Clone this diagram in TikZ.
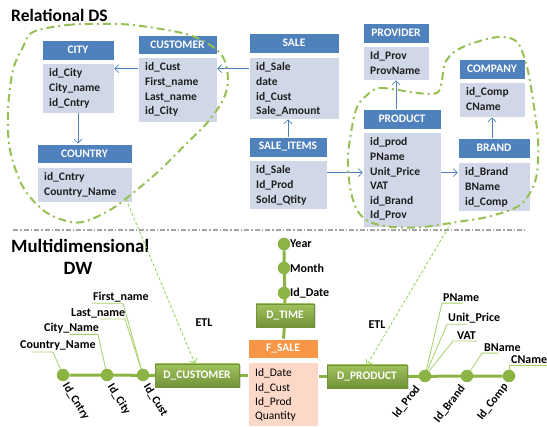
\documentclass[tikz,border=0pt]{standalone}
\usepackage{fontspec}
\setmainfont{Carlito}
\usetikzlibrary{arrows.meta,shadows}
\pgfdeclarelayer{background}
\pgfsetlayers{background,main}
\definecolor{hblue}{RGB}{79,129,189}
\definecolor{bbody}{RGB}{208,216,232}
\definecolor{gtop}{RGB}{160,194,92}
\definecolor{gbot}{RGB}{114,146,56}
\definecolor{gline}{RGB}{140,180,68}
\definecolor{gleader}{RGB}{166,208,106}
\definecolor{gloop}{RGB}{150,192,84}
\definecolor{etlc}{RGB}{146,208,80}
\definecolor{fhead}{RGB}{247,150,70}
\definecolor{fbody}{RGB}{251,216,200}
\definecolor{sepc}{RGB}{165,165,165}
\newcommand{\ent}[9]{%
  \pgfmathsetmacro\entw{#3-#2}%
  \pgfmathsetmacro\enthh{#5-#4}%
  \pgfmathsetmacro\entbh{#7-#6}%
  \node[hdr, minimum width=\entw pt, minimum height=\enthh pt] (#1h) at ({(#2+#3)/2},{(#4+#5)/2}) {#8};
  \node[bodybox, minimum width=\entw pt, minimum height=\entbh pt] (#1b) at ({(#2+#3)/2},{(#6+#7)/2}) {};
  \foreach \t [count=\i] in {#9}
    \node[bodytxt, anchor=base west] (#1t\i) at ({#2+7},{#6+14+(\i-1)*14.6}) {\t};
}
\begin{document}
\begin{tikzpicture}[x=1pt,y=-1pt,
  hdr/.style={fill=hblue, draw=white, line width=0.6pt, inner sep=0pt, text=white, font=\fontsize{11.5}{13}\selectfont\bfseries},
  bodybox/.style={fill=bbody, draw=white, line width=0.6pt, inner sep=0pt},
  bodytxt/.style={inner sep=0pt, text=black!88, font=\fontsize{11.5}{13}\selectfont\bfseries},
  rel/.style={draw=hblue, line width=0.7pt, -{Straight Barb[length=4pt,width=8pt]}},
  gbox/.style={top color=gtop, bottom color=gbot, draw=gbot, line width=0.4pt, inner sep=0pt, text=white, font=\fontsize{11.5}{13}\selectfont\bfseries, drop shadow={opacity=0.3, shadow xshift=1.5pt, shadow yshift=-1.5pt}},
  dot/.style={circle, fill=gline, minimum size=12.5pt, inner sep=0pt},
  dim/.style={draw=gline, line width=3pt},
  leader/.style={draw=gleader, line width=0.8pt},
  lbl/.style={inner sep=0pt, font=\fontsize{12}{14}\selectfont\bfseries},
  rlbl/.style={inner sep=0pt, font=\fontsize{11.5}{13}\selectfont\bfseries},
  greenloop/.style={draw=gloop, line width=2pt, dash pattern=on 8pt off 4pt on 2pt off 4pt},
  etlarrow/.style={draw=etlc, line width=0.8pt, dash pattern=on 3pt off 2pt, -{Straight Barb[length=4pt,width=8pt]}},
  title/.style={inner sep=0pt, font=\fontsize{17.5}{20}\selectfont\bfseries},
]
\useasboundingbox (0,0) rectangle (547,427);

% ---------- titles ----------
\node[title, anchor=west] (t1) at (11,15) {Relational DS};
\node[title, anchor=west, font=\fontsize{18.8}{21}\selectfont\bfseries] (t2) at (11,246) {Multidimensional};
\node[title, font=\fontsize{18.8}{21}\selectfont\bfseries] (t3) at (78,268) {DW};

% ---------- relational entities ----------
\ent{city}{42}{114}{40}{60}{63}{113}{CITY}{id\_City,City\_name,id\_Cntry}
\ent{cust}{138}{217}{35}{54}{57}{122}{CUSTOMER}{id\_Cust,First\_name,Last\_name,id\_City}
\ent{ctry}{37}{132}{144}{163}{167}{202}{COUNTRY}{id\_Cntry,Country\_Name}
\ent{sale}{249}{339}{33}{53}{57}{119}{SALE}{id\_Sale,date,id\_Cust,Sale\_Amount}
\ent{items}{249}{327}{137}{157}{160}{209}{SALE\_ITEMS}{id\_Sale,Id\_Prod,Sold\_Qtity}
\ent{prov}{363}{429}{23}{43}{46}{80}{PROVIDER}{Id\_Prov,ProvName}
\ent{prod}{363}{441}{109}{129}{132}{227}{PRODUCT}{id\_prod,PName,Unit\_Price,VAT,id\_Brand,Id\_Prov}
\ent{comp}{459}{525}{59}{79}{82}{117}{COMPANY}{id\_Comp,CName}
\ent{brand}{458}{530}{138}{158}{162}{211}{BRAND}{id\_Brand,BName,id\_Comp}

% ---------- relational connectors ----------
\draw[rel] ([yshift=-12pt]custb.north west) -- ([yshift=-6pt]cityb.north east);
\draw[rel] ([yshift=-12pt]saleb.north west) -- ([yshift=-12pt]custb.north east);
\draw[rel] (cityb.south) -- (cityb.south |- ctryh.north);
\draw[rel] (itemsh.north) -- (itemsh.north |- saleb.south);
\draw[rel] ([yshift=-13pt]itemsb.north east) -- ([yshift=-13pt]itemsb.north east -| prodb.west);
\draw[rel] (provb.south |- prodh.north) -- (provb.south);
\draw[rel] ([yshift=-41pt]prodb.north east) -- ([yshift=-41pt]prodb.north east -| brandb.west);
\draw[rel] (compb.south |- brandh.north) -- (compb.south);

% ---------- green loops ----------
\draw[greenloop] plot[smooth cycle, tension=0.55] coordinates {(33,32) (67,25) (100,24) (133,25) (182,33) (207,43) (223,57) (228,80) (223,100) (207,123) (187,143) (160,170) (133,193) (110,210) (83,222) (63,220) (43,210) (23,187) (10,150) (8,110) (13,70) (23,47)};
\draw[greenloop] plot[smooth cycle, tension=0.55] coordinates {(365,97) (380,88) (417,93) (437,93) (442,80) (445,63) (457,50) (483,40) (503,37) (518,43) (527,67) (533,100) (538,140) (537,173) (530,193) (517,207) (487,217) (457,222) (423,227) (393,227) (370,222) (357,210) (350,187) (348,157) (352,127) (357,107)};

% ---------- separator ----------
\coordinate (sepL) at (13,230);
\coordinate (sepR) at (525,230);
\draw[sepc, line width=1.2pt, dash pattern=on 5pt off 2pt on 1.5pt off 2pt] (sepL) -- (sepR);

% ---------- multidimensional part ----------
\node[gbox, minimum width=58pt, minimum height=23pt] (dtime) at (285,315.5) {D\_TIME};
\node[gbox, minimum width=84pt, minimum height=23pt] (dcust) at (197,375.5) {D\_CUSTOMER};
\node[gbox, minimum width=80pt, minimum height=23pt] (dprod) at (367,376.5) {D\_PRODUCT};

\node[fill=fhead, draw=white, line width=0.6pt, minimum width=70pt, minimum height=19pt, inner sep=0pt, text=white, font=\fontsize{11.5}{13}\selectfont\bfseries] (fsh) at (283,348.5) {F\_SALE};
\node[fill=fbody, draw=white, line width=0.6pt, minimum width=70pt, minimum height=64pt, inner sep=0pt] (fsb) at (283,394) {};
\foreach \t [count=\i] in {Id\_Date,Id\_Cust,Id\_Prod,Quantity}
  \node[inner sep=0pt, anchor=base west, font=\fontsize{11.5}{13}\selectfont] (fst\i) at (255,{377+(\i-1)*14.3}) {\t};

% time hierarchy
\node[dot] (year) at (284,244) {};
\node[dot] (month) at (284,268) {};
\node[dot] (iddate) at (284,293) {};
\node[lbl, anchor=west] (lyear) at (290,244) {Year};
\node[lbl, anchor=west] (lmonth) at (290,268) {Month};
\node[lbl, anchor=west] (liddate) at (290,293) {Id\_Date};

% customer hierarchy
\node[dot] (dcntry) at (63,375) {};
\node[dot] (dcity) at (107,375) {};
\node[dot] (dcid) at (143,375) {};
\node[rlbl, anchor=west, rotate=-58] (rcntry) at (65,384) {Id\_Cntry};
\node[rlbl, anchor=west, rotate=-58] (rcity) at (110,385) {Id\_City};
\node[rlbl, anchor=west, rotate=-58] (rcust) at (146,385) {Id\_Cust};
\node[lbl, anchor=west] (lcn) at (20,346) {Country\_Name};
\node[lbl, anchor=west] (lcity) at (44,328) {City\_Name};
\node[lbl, anchor=west] (llast) at (71,313) {Last\_name};
\node[lbl, anchor=west] (lfirst) at (93,297) {First\_name};

% product hierarchy
\node[dot] (dpid) at (425,376) {};
\node[dot] (dbrand) at (467,376) {};
\node[dot] (dcomp) at (509,376) {};
\node[rlbl, anchor=east, rotate=52] (rprod) at (418,387) {Id\_Prod};
\node[rlbl, anchor=east, rotate=52] (rbrand) at (463,387) {Id\_Brand};
\node[rlbl, anchor=east, rotate=52] (rcomp) at (506,385) {Id\_Comp};
\node[lbl, anchor=west] (lpname) at (443,298) {PName};
\node[lbl, anchor=west] (lup) at (448,318) {Unit\_Price};
\node[lbl, anchor=west] (lvat) at (457,336) {VAT};
\node[lbl, anchor=west] (lbname) at (484,348) {BName};
\node[lbl, anchor=west] (lcname) at (511,360) {CName};

% ETL
\node[lbl] (etl1) at (204,323) {ETL};
\node[lbl] (etl2) at (377,325) {ETL};
\coordinate (etlL) at (126,199);
\coordinate (etlR) at (451,223);
\draw[etlarrow] (etlL) -- ([xshift=-2pt]dcust.north);
\draw[etlarrow] (etlR) -- (dprod.north);

\begin{pgfonlayer}{background}
  \draw[dim] (year) -- (dtime);
  \draw[dim] (dtime) -- (fsh);
  \draw[dim] (dcntry) -- (dcust);
  \draw[dim] (dcust.east) -- (dcust.east -| fsb.west);
  \draw[dim] (dprod) -- (dcomp);
  \draw[dim] (dprod.west) -- (dprod.west -| fsb.east);
  \draw[leader] ([xshift=12pt,yshift=-1pt]lcn.south west) -- ([xshift=33pt,yshift=-1pt]lcn.south west) -- (dcntry);
  \draw[leader] ([xshift=26pt,yshift=-1pt]lcity.south west) -- ([xshift=54pt,yshift=-1pt]lcity.south west) -- (dcity);
  \draw[leader] ([xshift=29pt,yshift=-1pt]llast.south west) -- ([xshift=54pt,yshift=-1pt]llast.south west) -- (dcid);
  \draw[leader] ([xshift=-1pt,yshift=-1pt]lfirst.south west) -- ([xshift=30pt,yshift=-1pt]lfirst.south west) -- (dcid);
  \draw[leader] ([xshift=20pt,yshift=-1pt]lpname.south west) -- ([xshift=-1pt,yshift=-1pt]lpname.south west) -- (dpid);
  \draw[leader] ([xshift=19pt,yshift=-1pt]lup.south west) -- ([xshift=-1pt,yshift=-1pt]lup.south west) -- (dpid);
  \draw[leader] ([xshift=20pt,yshift=-1pt]lvat.south west) -- ([xshift=-4pt,yshift=-1pt]lvat.south west) -- (dpid);
  \draw[leader] ([xshift=14pt,yshift=-1pt]lbname.south west) -- ([xshift=-2pt,yshift=-1pt]lbname.south west) -- (dbrand);
  \draw[leader] ([xshift=36pt,yshift=-1pt]lcname.south west) -- ([xshift=-2pt,yshift=-1pt]lcname.south west) -- (dcomp);
\end{pgfonlayer}
\end{tikzpicture}
\end{document}
